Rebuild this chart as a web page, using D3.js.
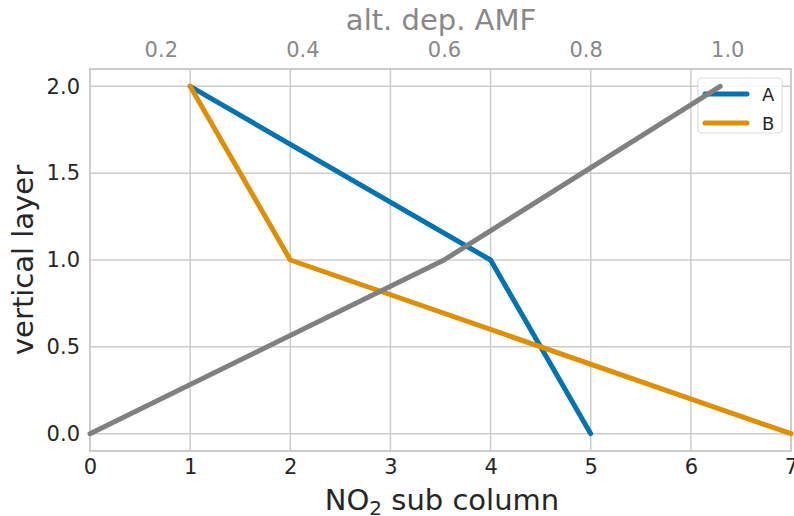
<!DOCTYPE html>
<html>
<head>
<meta charset="utf-8">
<script src="https://cdn.jsdelivr.net/npm/d3@7"></script>
<style>
  body { margin: 0; background: #fff; }
  svg { font-family: "DejaVu Sans", sans-serif; }
</style>
</head>
<body>
<div id="chart"></div>
<script>
// data
const layers = [2, 1, 0];
const seriesA = [1, 4, 5];
const seriesB = [1, 2, 7];
const amf = [0.1, 0.6, 0.99];
const amfLayers = [0, 1, 2];
const xTicks = [0, 1, 2, 3, 4, 5, 6, 7];
const yTicks = [0, 0.5, 1, 1.5, 2];
const topTicks = [0.2, 0.4, 0.6, 0.8, 1.0];

const W = 794, H = 516;
const margin = { left: 90, right: 3, top: 69, bottom: 65 };
const iw = W - margin.left - margin.right;
const ih = H - margin.top - margin.bottom;

const svg = d3.select("#chart").append("svg")
  .attr("width", W).attr("height", H);

const g = svg.append("g").attr("transform", `translate(${margin.left},${margin.top})`);

const x = d3.scaleLinear().domain([0, 7]).range([0, iw]);
const xTop = d3.scaleLinear().domain([0.1, 1.09]).range([0, iw]);
const y = d3.scaleLinear().domain([-0.1, 2.1]).range([ih, 0]);

const gridColor = "#cccccc";
const textColor = "#262626";
const tickSize = 21;

// grid
g.append("g").selectAll("line").data(xTicks).enter().append("line")
  .attr("x1", d => x(d)).attr("x2", d => x(d))
  .attr("y1", 0).attr("y2", ih)
  .attr("stroke", gridColor).attr("stroke-width", 1.5);
g.append("g").selectAll("line").data(yTicks).enter().append("line")
  .attr("y1", d => y(d)).attr("y2", d => y(d))
  .attr("x1", 0).attr("x2", iw)
  .attr("stroke", gridColor).attr("stroke-width", 1.5);

// frame
g.append("rect").attr("x", 0).attr("y", 0).attr("width", iw).attr("height", ih)
  .attr("fill", "none").attr("stroke", gridColor).attr("stroke-width", 2);

// axes (no tick marks)
const xAxis = g.append("g").attr("transform", `translate(0,${ih})`)
  .call(d3.axisBottom(x).tickValues(xTicks).tickFormat(d3.format("d")).tickSize(0).tickPadding(8));
const yAxis = g.append("g")
  .call(d3.axisLeft(y).tickValues(yTicks).tickFormat(d3.format(".1f")).tickSize(0).tickPadding(10));
const topAxis = g.append("g")
  .call(d3.axisTop(xTop).tickValues(topTicks).tickFormat(d3.format(".1f")).tickSize(0).tickPadding(12));

[xAxis, yAxis, topAxis].forEach(a => {
  a.attr("font-size", tickSize).attr("font-family", "DejaVu Sans");
  a.select(".domain").remove();
});
xAxis.selectAll("text").attr("fill", textColor);
yAxis.selectAll("text").attr("fill", textColor);
topAxis.selectAll("text").attr("fill", "#888888");

// axis labels
svg.append("text")
  .attr("x", 442).attr("y", 510)
  .attr("text-anchor", "middle")
  .attr("font-size", 29).attr("fill", textColor)
  .html('NO<tspan dy="5" font-size="20">2</tspan><tspan dy="-5"> sub column</tspan>');

svg.append("text")
  .attr("transform", `translate(33,${margin.top + ih / 2}) rotate(-90)`)
  .attr("text-anchor", "middle")
  .attr("font-size", 29).attr("fill", textColor)
  .text("vertical layer");

svg.append("text")
  .attr("x", 441).attr("y", 30)
  .attr("text-anchor", "middle")
  .attr("font-size", 29).attr("fill", "#888888")
  .text("alt. dep. AMF");

// lines
const lineA = d3.line().x(d => x(d[0])).y(d => y(d[1]));
const series = [
  { name: "A", color: "#0173b2", values: seriesA },
  { name: "B", color: "#de8f05", values: seriesB }
];
series.forEach(s => {
  g.append("path")
    .datum(s.values.map((v, i) => [v, layers[i]]))
    .attr("d", lineA)
    .attr("fill", "none")
    .attr("stroke", s.color)
    .attr("stroke-width", 5)
    .attr("stroke-linecap", "round")
    .attr("stroke-linejoin", "round");
});

// legend
const legend = svg.append("g").attr("transform", "translate(698,78)");
legend.append("rect")
  .attr("width", 84).attr("height", 55).attr("rx", 4)
  .attr("fill", "#fff").attr("fill-opacity", 0.85)
  .attr("stroke", "#dddddd").attr("stroke-width", 1.2);
series.forEach((s, i) => {
  const row = legend.append("g").attr("transform", `translate(0,${16 + i * 29})`);
  row.append("line").attr("x1", 7).attr("x2", 49)
    .attr("stroke", s.color).attr("stroke-width", 5).attr("stroke-linecap", "round");
  row.append("text").attr("x", 64).attr("y", 7)
    .attr("font-size", 18).attr("fill", textColor).text(s.name);
});

// gray AMF line (twin axis, drawn on top)
const lineTop = d3.line().x(d => xTop(d[0])).y(d => y(d[1]));
svg.append("path")
  .attr("transform", `translate(${margin.left},${margin.top})`)
  .datum(amf.map((v, i) => [v, amfLayers[i]]))
  .attr("d", lineTop)
  .attr("fill", "none")
  .attr("stroke", "#808080")
  .attr("stroke-width", 5)
  .attr("stroke-linecap", "round")
  .attr("stroke-linejoin", "round");
</script>
</body>
</html>
